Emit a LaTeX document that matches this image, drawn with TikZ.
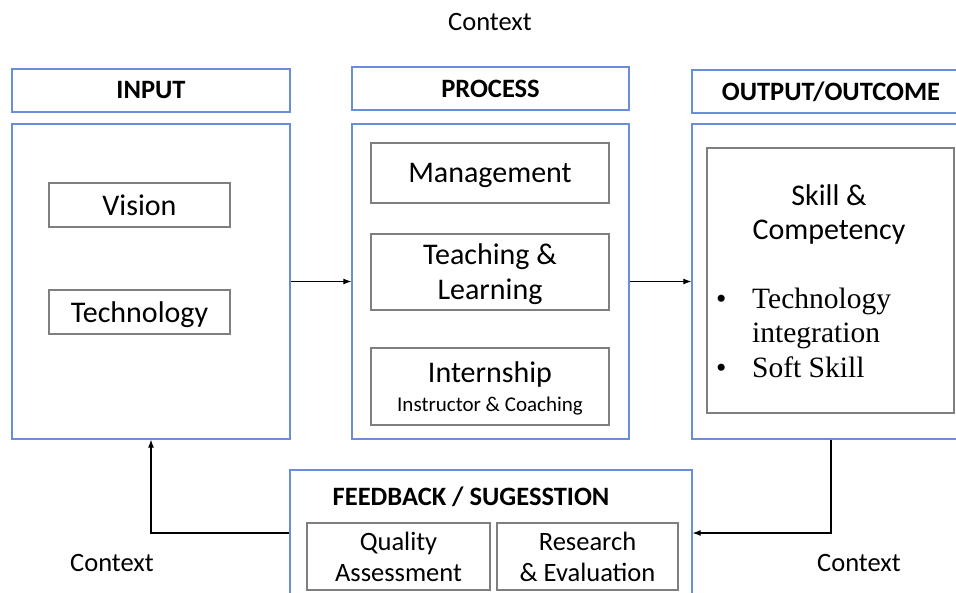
\documentclass[tikz,border=0pt]{standalone}
\usepackage{fontspec}
\setmainfont{Carlito}
\newfontfamily\serifbody{Liberation Serif}
\usepackage{tikz}
\usetikzlibrary{positioning,calc,arrows.meta}

\definecolor{frameblue}{HTML}{6A8ED8}
\definecolor{framegray}{HTML}{7F7F7F}

\begin{document}
\begin{tikzpicture}[x=1pt,y=-1pt,
  head/.style={draw=frameblue, line width=1.3pt, minimum width=278pt, minimum height=43pt,
    font=\fontsize{26.5}{31}\selectfont\bfseries},
  panel/.style={draw=frameblue, line width=1.3pt, minimum width=278pt, minimum height=315pt},
  item/.style={draw=framegray, line width=1.3pt, align=center, inner sep=0pt, text depth=0pt,
    font=\fontsize{30}{35}\selectfont},
  ctx/.style={font=\fontsize{26.5}{31}\selectfont},
  arr/.style={-{Latex[length=8pt,width=6pt]}, line width=1.1pt}]
\clip (0,0) rectangle (956,593);

% Context above
\node[ctx] (ctxTop) at (490,22) {Context};

% Input column
\node[head] (inHead) at (151,90.5) {INPUT};
\node[panel] (inBody) at (151,281.5) {};
\node[item, minimum width=181pt, minimum height=44pt] (vision) at (139.5,205) {Vision};
\node[item, minimum width=181pt, minimum height=44pt] (tech) at (139.5,312) {Technology};

% Process column
\node[head, minimum width=277pt] (prHead) at (490.5,88.5) {PROCESS};
\node[panel, minimum width=277pt] (prBody) at (490.5,281.5) {};
\node[item, minimum width=238pt, minimum height=60pt] (mgmt) at (490,173) {Management};
\node[item, minimum width=238pt, minimum height=76pt] (teach) at (490,272) {Teaching \&\\Learning};
\node[item, minimum width=238pt, minimum height=77pt] (intern) at (490,386.5)
  {Internship\\[-6pt]{\fontsize{21}{25}\selectfont Instructor \& Coaching}};

% Output column
\node[head] (outHead) at (831,91.5) {OUTPUT/OUTCOME};
\node[panel] (outBody) at (831,281.5) {};
\node[item, minimum width=247pt, minimum height=265pt] (skill) at (830.5,280.5) {};
\node[font=\fontsize{30}{34}\selectfont, align=center] (skillHd) at (829,215) {Skill \&\\Competency};
\node[anchor=west, inner sep=0pt, font=\serifbody\fontsize{29.5}{34.5}\selectfont] (skillList) at (716,336)
  {\begin{tabular}{@{}p{36pt}@{}l@{}}
   \textbullet & Technology\\
               & integration\\
   \textbullet & Soft Skill
   \end{tabular}};

% Feedback block
\node[draw=frameblue, line width=1.3pt, minimum width=402pt, minimum height=126pt] (fbBox) at (491,533) {};
\node[font=\fontsize{26.5}{31}\selectfont\bfseries] (fbTitle) at (471,497) {FEEDBACK / SUGESSTION};
\node[item, minimum width=183pt, minimum height=67pt, font=\fontsize{26.5}{31}\selectfont] (quality) at (398.5,556.5)
  {Quality\\Assessment};
\node[item, minimum width=181pt, minimum height=67pt, font=\fontsize{26.5}{31}\selectfont] (research) at (587.5,556.5)
  {Research\\\& Evaluation};

% Context labels below
\node[ctx] (ctxLeft) at (112,563) {Context};
\node[ctx] (ctxRight) at (859,563) {Context};

% Flow arrows
\draw[arr] (inBody.east) -- (prBody.west);
\draw[arr] (prBody.east) -- (outBody.west);
\draw[arr] (outBody.south) |- (fbBox.east);
\draw[arr] (fbBox.west) -| (inBody.south);
\end{tikzpicture}
\end{document}
